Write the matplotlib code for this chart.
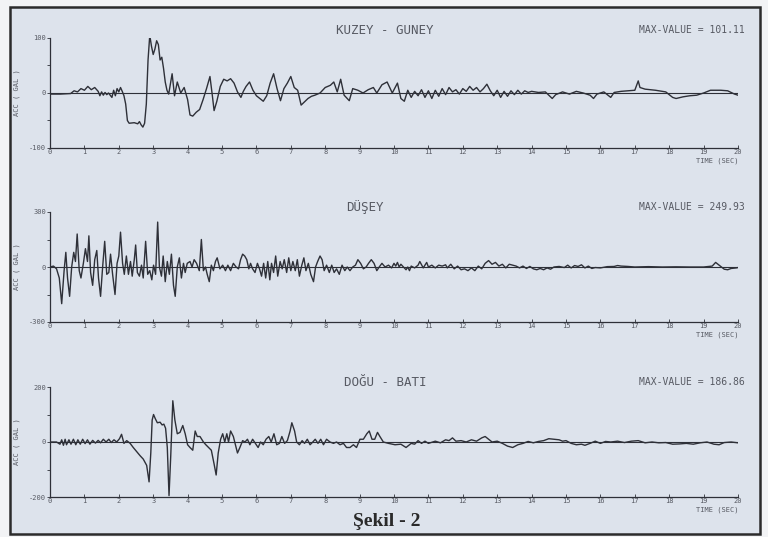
import numpy as np
import matplotlib
matplotlib.use("Agg")
import matplotlib.pyplot as plt
from matplotlib.patches import Rectangle

# --- kayit verileri (zaman sn, ivme gal) ---
ns_t = [0.0, 0.3, 0.6, 0.7, 0.8, 0.9, 1.0, 1.1, 1.2, 1.3, 1.4, 1.45, 1.5, 1.55, 1.6, 1.65, 1.7,
        1.8, 1.85, 1.9, 1.95, 2.0, 2.05, 2.1, 2.15, 2.2, 2.25, 2.3, 2.45, 2.55, 2.6, 2.65, 2.7,
        2.75, 2.8, 2.85, 2.9, 2.95, 3.0, 3.05, 3.1, 3.15, 3.2, 3.25, 3.3, 3.35, 3.4, 3.45, 3.55,
        3.62, 3.7, 3.8, 3.9, 4.0, 4.07, 4.15, 4.25, 4.35, 4.45, 4.55, 4.65, 4.72, 4.77, 4.85,
        4.95, 5.05, 5.15, 5.25, 5.35, 5.45, 5.55, 5.62, 5.7, 5.8, 5.9, 6.0, 6.1, 6.2, 6.3, 6.4,
        6.5, 6.6, 6.7, 6.8, 6.9, 7.0, 7.1, 7.2, 7.3, 7.4, 7.5, 7.6, 7.7, 7.85, 8.0, 8.15, 8.25,
        8.35, 8.45, 8.55, 8.7, 8.8, 8.95, 9.1, 9.25, 9.4, 9.5, 9.65, 9.8, 9.95, 10.1, 10.2, 10.3,
        10.4, 10.5, 10.6, 10.7, 10.8, 10.9, 11.0, 11.1, 11.2, 11.3, 11.4, 11.5, 11.6, 11.7, 11.8,
        11.9, 12.0, 12.1, 12.2, 12.3, 12.4, 12.5, 12.6, 12.7, 12.8, 12.9, 13.0, 13.1, 13.2, 13.3,
        13.4, 13.5, 13.6, 13.7, 13.8, 13.9, 14.0, 14.2, 14.4, 14.6, 14.7, 14.9, 15.1, 15.3, 15.5,
        15.7, 15.8, 15.9, 16.1, 16.3, 16.4, 16.6, 16.8, 17.0, 17.1, 17.15, 17.3, 17.6, 17.9, 18.1,
        18.2, 18.4, 18.6, 18.8, 19.0, 19.2, 19.5, 19.7, 19.9, 20.0]
ns_a = [-2, -2, -1, 4, 2, 8, 5, 12, 6, 10, 3, -5, 2, -4, 1, -3, 0,
        -8, 5, -5, 8, 2, 10, 3, -5, -20, -50, -55, -54, -56, -52, -58, -62,
        -55, -20, 60, 105, 85, 70, 80, 95, 88, 60, 65, 45, 20, 5, -2, 35,
        -5, 20, 0, 10, -12, -40, -42, -35, -30, -12, 8, 30, -5, -32, -15,
        12, 25, 22, 26, 18, 2, -8, 3, 12, 20, 5, -5, -10, -15, -5, 18,
        35, 8, -14, 8, 18, 30, 10, 5, -22, -16, -10, -6, -4, 0, 10, 14, 20,
        2, 25, -4, -14, 8, 5, 0, 6, 10, 0, 15, 20, 0, 18, -10, -15,
        5, -8, 3, -5, 6, -8, 4, -10, 5, -6, 8, -3, 10, 2, 6,
        -2, 8, 3, 12, 5, 10, 2, 8, 16, 4, -5, 5, -8, 3, -6,
        4, -3, 5, -2, 4, 1, 3, 1, 2, -10, -3, 2, -2, 3, 0,
        -4, -10, -2, 2, -8, 1, 3, 4, 5, 22, 10, 7, 5, 2, -8,
        -10, -7, -5, -4, 0, 5, 5, 4, -2, -4]

ud_t = [0.0, 0.10, 0.19, 0.27, 0.34, 0.41, 0.46, 0.51, 0.57, 0.63, 0.69, 0.74, 0.79, 0.85, 0.90,
        0.97, 1.03, 1.09, 1.13, 1.18, 1.24, 1.30, 1.36, 1.41, 1.47, 1.53, 1.59, 1.65, 1.71, 1.76,
        1.82, 1.89, 1.95, 2.00, 2.05, 2.11, 2.16, 2.22, 2.28, 2.34, 2.39, 2.45, 2.49, 2.54, 2.60,
        2.66, 2.71, 2.78, 2.84, 2.90, 2.96, 3.01, 3.07, 3.13, 3.18, 3.24, 3.29, 3.35, 3.41, 3.47,
        3.53, 3.59, 3.64, 3.70, 3.76, 3.82, 3.88, 3.93, 3.99, 4.07, 4.13, 4.19, 4.26, 4.34, 4.40,
        4.46, 4.52, 4.57, 4.63, 4.69, 4.75, 4.81, 4.86, 4.94, 5.02, 5.10, 5.17, 5.25, 5.33, 5.41,
        5.48, 5.54, 5.60, 5.66, 5.72, 5.78, 5.83, 5.89, 5.96, 6.03, 6.09, 6.15, 6.21, 6.27, 6.33,
        6.39, 6.44, 6.50, 6.56, 6.62, 6.69, 6.75, 6.81, 6.88, 6.94, 7.00, 7.06, 7.13, 7.19, 7.25,
        7.32, 7.38, 7.44, 7.51, 7.58, 7.66, 7.72, 7.78, 7.85, 7.91, 7.97, 8.04, 8.12, 8.19, 8.26,
        8.33, 8.41, 8.49, 8.57, 8.64, 8.72, 8.80, 8.88, 8.95, 9.03, 9.11, 9.19, 9.26, 9.34, 9.42,
        9.50, 9.57, 9.65, 9.74, 9.84, 9.93, 10.0, 10.05, 10.1, 10.15, 10.2, 10.3, 10.35, 10.4,
        10.45, 10.5, 10.6, 10.7, 10.75, 10.85, 10.95, 11.0, 11.1, 11.2, 11.3, 11.4, 11.5, 11.55,
        11.65, 11.75, 11.85, 11.95, 12.05, 12.15, 12.25, 12.35, 12.45, 12.55, 12.65, 12.75,
        12.85, 12.95, 13.05, 13.15, 13.25, 13.35, 13.45, 13.55, 13.65, 13.75, 13.85, 13.95,
        14.05, 14.15, 14.25, 14.35, 14.45, 14.55, 14.65, 14.8, 14.95, 15.05, 15.15, 15.25,
        15.35, 15.45, 15.55, 15.65, 15.75, 15.85, 16.0, 16.2, 16.4, 16.5, 16.6, 16.8, 17.0,
        17.4, 17.8, 18.2, 18.6, 19.0, 19.25, 19.35, 19.45, 19.6, 19.7, 19.8, 19.95, 20.0]
ud_a = [0, 5, -10, -60, -200, -20, 80, -60, -160, 0, 80, 30, 180, -20, -60,
        20, 100, 30, 170, -30, -100, 40, 90, -60, -160, 0, 140, -40, -30, 70,
        -40, -150, 20, 60, 190, 20, -40, 60, -40, 30, -50, 40, 120, -30, -50,
        10, -60, 140, -40, -20, -70, 10, -40, 245, 0, -50, 60, -80, 30, -40,
        70, -100, -160, 0, 50, -60, 20, -30, 20, 30, 0, 40, 20, -20, 150,
        -20, 0, -40, -80, 10, -20, 30, 50, -10, 10, -20, 10, -20, 20, 0,
        -10, 40, 70, 60, 40, -10, 20, -10, -30, 20, -10, -50, 20, -60, 30,
        -70, 20, -30, 60, -50, 30, -10, 40, -30, 50, -20, 30, -20, 40, -50,
        10, 50, -20, 20, -40, -80, 0, 30, 60, 40, -20, 10, -30, 10, -30,
        -10, -40, 10, -20, 0, -20, 0, 10, 40, 20, -10, 0, 20, 40, 20,
        -20, 0, 20, 0, 10, -5, 20, 5, 25, 0, 15, -5, -15, 0,
        -20, 5, -5, 10, 30, -5, 25, 0, 10, -5, 10, 5, 12, -5,
        15, -10, 5, -15, -10, -20, -5, -20, 5, -10, 20, 35,
        15, 25, 5, 15, -5, 15, 10, 5, -5, 5, -8, 3,
        -10, -15, -8, -15, -5, -12, 0, 3, -3, 10, -5, 8,
        3, 12, -5, 5, -8, -3, -5, 2, 3, 8, 5, 3, 0,
        2, 0, 1, 0, 0, 5, 25, 10, -12, -15, -8, -5, -3]

ew_t = [0.0, 0.19, 0.29, 0.34, 0.39, 0.44, 0.48, 0.55, 0.61, 0.68, 0.75, 0.81, 0.88, 0.95, 1.02,
        1.09, 1.16, 1.24, 1.32, 1.40, 1.47, 1.55, 1.63, 1.71, 1.78, 1.86, 1.94, 2.02, 2.08, 2.15,
        2.23, 2.33, 2.42, 2.52, 2.62, 2.71, 2.81, 2.88, 2.93, 2.97, 3.01, 3.06, 3.12, 3.20, 3.26,
        3.31, 3.36, 3.41, 3.46, 3.51, 3.57, 3.63, 3.70, 3.78, 3.86, 3.93, 4.00, 4.07, 4.15, 4.22,
        4.28, 4.36, 4.46, 4.53, 4.61, 4.69, 4.77, 4.83, 4.89, 4.96, 5.02, 5.08, 5.14, 5.19, 5.25,
        5.33, 5.39, 5.45, 5.52, 5.60, 5.67, 5.74, 5.81, 5.89, 5.97, 6.05, 6.12, 6.20, 6.28, 6.36,
        6.43, 6.51, 6.59, 6.67, 6.74, 6.82, 6.90, 6.98, 7.03, 7.11, 7.17, 7.25, 7.33, 7.40, 7.48,
        7.56, 7.64, 7.71, 7.79, 7.87, 7.95, 8.04, 8.14, 8.24, 8.33, 8.43, 8.53, 8.62, 8.72, 8.82,
        8.91, 9.01, 9.11, 9.21, 9.28, 9.36, 9.44, 9.52, 9.59, 9.69, 9.84, 10.03, 10.2, 10.35,
        10.5, 10.6, 10.7, 10.8, 10.9, 11.0, 11.2, 11.35, 11.5, 11.6, 11.7, 11.8, 11.95, 12.1,
        12.25, 12.4, 12.55, 12.65, 12.75, 12.85, 13.0, 13.15, 13.3, 13.45, 13.6, 13.75, 13.9,
        14.05, 14.2, 14.35, 14.5, 14.65, 14.8, 14.9, 15.0, 15.15, 15.3, 15.45, 15.55, 15.7,
        15.85, 16.0, 16.15, 16.3, 16.5, 16.7, 16.9, 17.1, 17.3, 17.5, 17.7, 17.9, 18.1, 18.3,
        18.5, 18.7, 18.9, 19.1, 19.3, 19.45, 19.6, 19.8, 20.0]
ew_a = [0, 0, -8, 8, -12, 10, -10, 8, -8, 10, -10, 8, -8, 10, -6,
        8, -8, 6, -4, 6, -3, 10, 0, 10, -2, 8, 0, 12, 28, -5,
        5, -5, -20, -35, -50, -62, -85, -145, -40, 80, 100, 85, 70, 72, 62,
        65, 50, -20, -195, -50, 150, 80, 30, 35, 60, 30, -10, -20, -30, 40,
        20, 20, 0, -10, -20, -30, -80, -120, -40, 10, 30, 0, 30, 0, 40,
        20, -10, -40, -20, 5, 0, 10, -10, 10, -5, -20, 0, -10, 10, 20,
        0, 30, -10, -5, 20, -5, 5, 40, 70, 40, 0, -10, 5, -5, 10,
        -10, 0, 10, -5, 10, -10, 10, 0, -5, 0, -10, -5, -20, -20, -10,
        -20, 10, 10, 30, 40, 10, 10, 35, 20, 0, -5, -10, -8, -20,
        -5, -8, 5, -5, 3, -5, 3, -3, 8, 5, 15, 3, 5, 0,
        8, 3, 15, 20, 10, 0, 3, -5, -15, -20, -10, -5, 2,
        -3, 2, 5, 12, 10, 8, 3, 5, -5, -10, -8, -12, -5,
        3, -5, 2, 0, 3, -2, 3, 5, -3, 0, -3, -2, -8, -7,
        -5, -8, -3, 0, -8, -10, -2, 0, -3]

titles = ["KUZEY - GUNEY", "DÜŞEY", "DOĞU - BATI"]
max_labels = ["MAX-VALUE = 101.11", "MAX-VALUE = 249.93", "MAX-VALUE = 186.86"]
scales = [100, 300, 200]
seconds = list(range(0, 21))

W, H = 768, 537
fig = plt.figure(figsize=(W / 100, H / 100), dpi=100, facecolor="#f2f3f5")

paper = "#dde3ec"
ink = "#2e3038"
txt = "#575a63"

fig.patches.append(Rectangle((10 / W, 1 - 534 / H), 750 / W, 527 / H,
                             transform=fig.transFigure, facecolor=paper,
                             edgecolor="#2b2b2b", linewidth=1.8, zorder=-5))

def fx(x):
    return x / W

def fy(y):
    return 1 - y / H

# panel sinirlari: ust ve alt piksel
panels = [(38, 148), (212, 322), (387, 497)]
title_pos = [(385, 30), (365, 207), (385, 382)]
data = [(ns_t, ns_a), (ud_t, ud_a), (ew_t, ew_a)]
mono = "DejaVu Sans Mono"

for i in range(3):
    top, bot = panels[i]
    S = scales[i]
    ax = fig.add_axes([fx(50), fy(bot), fx(688), (bot - top) / H])
    ax.set_facecolor("none")
    t, a = data[i]
    ax.axhline(0, color=ink, lw=0.8)
    ax.plot(t, a, color=ink, lw=1.0)
    ax.set_xlim(0, 20)
    ax.set_ylim(-S, S)
    for s in ["top", "right"]:
        ax.spines[s].set_visible(False)
    for s in ["left", "bottom"]:
        ax.spines[s].set_color(ink)
        ax.spines[s].set_linewidth(0.9)
    ax.set_yticks([-S, 0, S])
    ax.set_yticklabels([str(-S), "0", str(S)], fontsize=5, color=txt, family=mono)
    ax.set_yticks([-S / 2, S / 2], minor=True)
    ax.tick_params(axis="y", which="both", length=2, width=0.6, color=ink, pad=1)
    ax.set_xticks(seconds)
    ax.set_xticklabels([str(s) for s in seconds], fontsize=5, color=txt, family=mono)
    ax.tick_params(axis="x", length=2, width=0.6, color=ink, pad=1, direction="in")
    ax.set_ylabel("ACC ( GAL )", fontsize=5, color=txt, family=mono, labelpad=6)
    ax.text(20, -S * 1.17, "TIME (SEC)", fontsize=5, color=txt, ha="right", va="top",
            family=mono)

    tx, ty = title_pos[i]
    fig.text(fx(tx), fy(ty), titles[i], fontsize=9, color=txt, ha="center", va="center",
             family=mono)
    fig.text(fx(745), fy(ty), max_labels[i], fontsize=7, color=txt, ha="right",
             va="center", family=mono)

fig.text(fx(387), fy(521), "Şekil - 2", fontsize=14, fontweight="bold", color="#2a2a2a",
         ha="center", va="center", family="Liberation Serif")

fig.savefig("out.png", dpi=100, facecolor=fig.get_facecolor())
